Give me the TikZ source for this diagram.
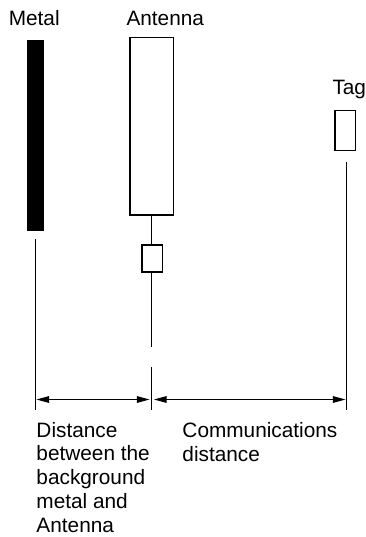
\documentclass[tikz,border=0pt]{standalone}
\usepackage{fontspec}
\setmainfont{Liberation Sans}
\usetikzlibrary{arrows.meta}

\tikzset{every picture/.style={line width=0.75pt}}
\tikzset{
  box/.style={draw, line width=1pt, inner sep=0pt, outer sep=0pt, fill=white},
  dimline/.style={line width=1pt},
  dimarrow/.style={line width=0.75pt, {Triangle[length=9.5pt,width=5pt]}-{Triangle[length=9.5pt,width=5pt]}},
  label/.style={inner sep=0pt, anchor=base west, align=left, font=\fontsize{15.6pt}{17.8pt}\selectfont}
}

\begin{document}
\begin{tikzpicture}[x=0.75pt,y=0.75pt,yscale=-1,xscale=1]
\useasboundingbox (0,0) rectangle (366,537);

%Metal plate
\node [box, fill=black, minimum width=11.8pt, minimum height=142.5pt] (metal) at (35.9,135.7) {};
%Antenna
\node [box, minimum width=32.5pt, minimum height=133.1pt] (antenna) at (151.7,126.3) {};
%Matching box
\node [box, minimum width=15.5pt, minimum height=20.3pt] (match) at (152.3,258.5) {};
%Tag
\node [box, minimum width=15.5pt, minimum height=30pt] (tag) at (345.3,130.7) {};

%Stem
\coordinate (stemend) at (151.7,347);
\draw [dimline] (antenna.south) -- (antenna.south |- match.north);
\draw [dimline] (antenna.south |- match.south) -- (stemend);

%Extension lines
\coordinate (mtop) at (35.7,239.3);
\coordinate (mbot) at (35.7,410);
\coordinate (atop) at (151.7,367);
\coordinate (abot) at (151.7,410);
\coordinate (ttop) at (346.5,161.7);
\coordinate (tbot) at (346.5,410);
\draw [dimline] (mtop) -- (mbot);
\draw [dimline] (atop) -- (abot);
\draw [dimline] (ttop) -- (tbot);

%Dimension arrows
\coordinate (d1) at (36.5,399.5);
\coordinate (d2) at (149.5,399.5);
\coordinate (d3) at (154,399.5);
\coordinate (d4) at (345.5,399.5);
\draw [dimarrow] (d1) -- (d2);
\draw [dimarrow] (d3) -- (d4);

% Text Node
\node [label] (metallabel) at (8.3,25) {Metal};
% Text Node
\node [label] (antennalabel) at (126,25) {Antenna};
% Text Node
\node [label] (taglabel) at (332,94) {Tag};
% Text Node (base is last line)
\node [label] (gaplabel) at (36,532) {Distance\\between the\\background\\metal and\\Antenna};
% Text Node
\node [label] (commlabel) at (182,461) {Communications\\distance};

\end{tikzpicture}
\end{document}
